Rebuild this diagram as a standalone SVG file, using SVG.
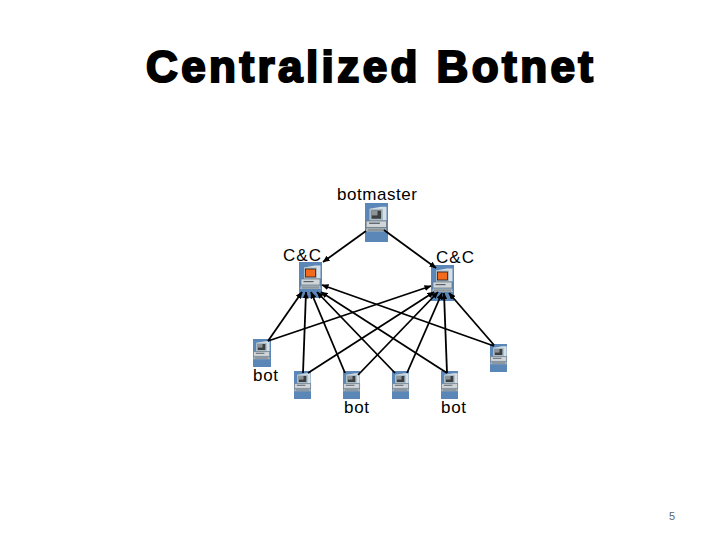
<svg xmlns="http://www.w3.org/2000/svg" width="720" height="540" viewBox="0 0 720 540">
<style>
text{font-family:"Liberation Sans",Arial,sans-serif;fill:#000}
.t{font-size:17px}
.title{font-size:44px;font-weight:bold;stroke:#000;stroke-width:2.2px}
.n{font-size:11px;fill:#5a6a70}
.c line{stroke:#000;stroke-width:1.8;marker-end:url(#a)}
.bg{fill:#5b86b8}
</style>
<defs>
<marker id="a" markerUnits="userSpaceOnUse" markerWidth="7" markerHeight="6" refX="6.500" refY="3" orient="auto"><path d="M0 0L7 3L0 6Z" fill="#000"/></marker>
<g id="pc">
<path d="M3.500 3.500L13 1.500H17.500V14H3.500Z" fill="#d5e0e6"/>
<rect x="3.500" y="3.500" width="11" height="10.500" fill="#a9bac4"/>
<rect x="5" y="5" width="8" height="7.500" fill="#3c3f40"/>
<rect x="5" y="5" width="5" height="4.500" fill="#8d9396"/>
<path d="M0.500 14.500H17.500V20.500H0.500Z" fill="#cfd5d8" stroke="#6c767a" stroke-width=".7"/>
<rect x="3" y="16" width="9" height="1.200" fill="#59626a"/>
<path d="M1 21H17L18 24H0Z" fill="#aeb6ba"/>
<path d="M2 22H16M2 23H16" stroke="#667077" stroke-width=".5"/>
</g>
<g id="cc">
<path d="M4 3.500L15 1.500H20.500V14.500H4Z" fill="#d5e0e6"/>
<rect x="4" y="3.500" width="13" height="11" fill="#a9bac4"/>
<rect x="5.500" y="5" width="10" height="8" fill="#f26a1b" stroke="#222" stroke-width=".8"/>
<path d="M1 15H20V21H1Z" fill="#cfd5d8" stroke="#6c767a" stroke-width=".7"/>
<rect x="3.500" y="17" width="10" height="1.200" fill="#59626a"/>
<path d="M1 21.500H20L21 25H0Z" fill="#aeb6ba"/>
<path d="M2 23H19M2 24H19" stroke="#667077" stroke-width=".5"/>
</g>
</defs>
<text id="title" class="title" x="146" y="82" textLength="447" lengthAdjust="spacing">Centralized Botnet</text>

<g id="botmaster">
<rect class="bg" x="365" y="203" width="23" height="39"/>
<use href="#pc" transform="translate(365.500 205) scale(1.200 1.100)"/>
<text class="t" x="337" y="200" textLength="80">botmaster</text>
</g>
<g id="cc1">
<rect class="bg" x="299" y="262" width="23" height="36"/>
<use href="#cc" x="300" y="264"/>
<text class="t" x="283" y="261" textLength="38">C&amp;C</text>
</g>
<g id="cc2">
<rect class="bg" x="431" y="265" width="23" height="36"/>
<use href="#cc" x="432" y="267"/>
<text class="t" x="436" y="263" textLength="38">C&amp;C</text>
</g>
<g id="bot1"><rect class="bg" x="253" y="339" width="18" height="28"/><use href="#pc" transform="translate(253 340) scale(.95 .8)"/><text class="t" x="253" y="381" textLength="25">bot</text></g>
<g id="bot2"><rect class="bg" x="294" y="371" width="17" height="28"/><use href="#pc" transform="translate(294 372) scale(.95 .8)"/></g>
<g id="bot3"><rect class="bg" x="343" y="371" width="17" height="28"/><use href="#pc" transform="translate(343 372) scale(.95 .8)"/><text class="t" x="344" y="413" textLength="25">bot</text></g>
<g id="bot4"><rect class="bg" x="392" y="371" width="17" height="28"/><use href="#pc" transform="translate(392 372) scale(.95 .8)"/></g>
<g id="bot5"><rect class="bg" x="441" y="371" width="17" height="28"/><use href="#pc" transform="translate(441 372) scale(.95 .8)"/><text class="t" x="441" y="413" textLength="25">bot</text></g>
<g id="bot6"><rect class="bg" x="490" y="344" width="17" height="28"/><use href="#pc" transform="translate(490 345) scale(.95 .8)"/></g>

<g id="connectors" class="c">
<line x1="366" y1="231" x2="323" y2="262"/>
<line x1="384" y1="230" x2="436" y2="268"/>
<line x1="268" y1="341" x2="302" y2="292"/>
<line x1="268" y1="341" x2="431" y2="286"/>
<line x1="303" y1="373" x2="306" y2="292"/>
<line x1="308" y1="373" x2="434" y2="292"/>
<line x1="345" y1="373" x2="311" y2="292"/>
<line x1="358" y1="375" x2="438" y2="292"/>
<line x1="395" y1="373" x2="317" y2="292"/>
<line x1="407" y1="373" x2="442" y2="293"/>
<line x1="447" y1="373" x2="321" y2="292"/>
<line x1="447" y1="373" x2="444" y2="293"/>
<line x1="494" y1="346" x2="322" y2="285"/>
<line x1="494" y1="345" x2="449" y2="293"/>
</g>
<text id="page" class="n" x="669" y="520">5</text>
</svg>
